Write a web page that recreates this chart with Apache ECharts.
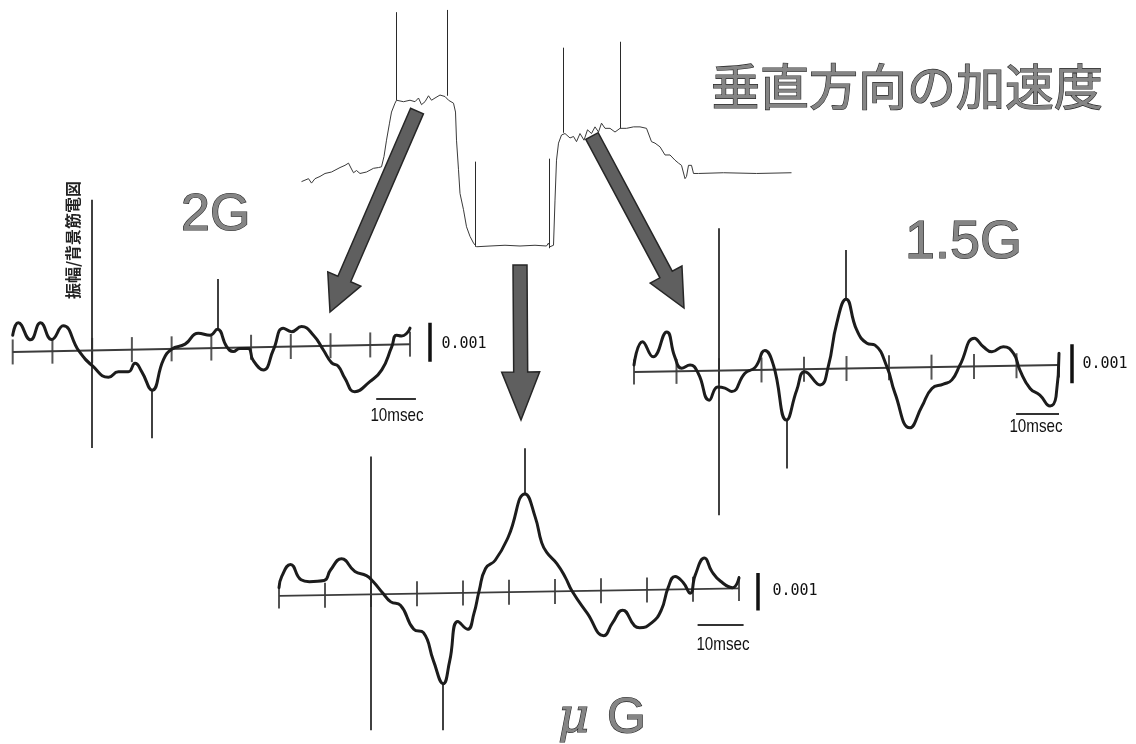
<!DOCTYPE html>
<html>
<head>
<meta charset="utf-8">
<title>垂直方向の加速度</title>
<script src="https://cdn.jsdelivr.net/npm/echarts@6/dist/echarts.min.js"></script>
<style>
  html, body { margin: 0; padding: 0; background: #fff; }
  #chart { width: 1136px; height: 744px; }
</style>
</head>
<body>
<div id="chart"></div>
<script>
// 垂直方向の加速度 (time: arb. units, acceleration: G)
const accelTrace = [
  [0.3, 0.87], [1.7, 0.91], [2.3, 0.85], [3.0, 0.91], [4.0, 0.94], [5.0, 0.98], [6.3, 1.00],
  [8.0, 1.06], [9.0, 1.09], [9.7, 1.12], [10.3, 1.04], [10.7, 0.99], [11.3, 1.02], [12.0, 0.98],
  [13.3, 1.00], [14.7, 1.05], [15.7, 1.06], [16.3, 1.07], [16.8, 1.21], [17.3, 1.43], [17.9, 1.66],
  [18.3, 1.81], [19.0, 1.93], [19.3, 1.97], [20.7, 1.95], [22.0, 1.97], [23.0, 1.95], [23.7, 2.00],
  [24.3, 1.91], [25.0, 1.95], [25.7, 2.03], [26.3, 1.97], [27.0, 2.00], [28.0, 2.04], [29.0, 2.02],
  [29.7, 1.97], [30.7, 1.93], [31.1, 1.81], [31.3, 1.43], [31.7, 1.03], [32.0, 0.71], [32.7, 0.49],
  [33.3, 0.26], [34.0, 0.13], [34.7, 0.04], [35.3, -0.01], [38.0, 0.00], [41.0, 0.01], [44.0, 0.00],
  [47.0, 0.01], [49.3, 0.00], [49.7, 0.04], [50.0, -0.01], [50.7, 0.01], [51.0, 0.62], [51.3, 1.16],
  [51.7, 1.39], [52.3, 1.50], [53.0, 1.52], [54.0, 1.46], [54.7, 1.48], [55.3, 1.41], [56.0, 1.52],
  [56.8, 1.43], [57.5, 1.57], [58.3, 1.52], [59.0, 1.61], [59.7, 1.54], [60.3, 1.66], [61.0, 1.59],
  [62.0, 1.59], [63.0, 1.54], [64.0, 1.59], [65.3, 1.59], [66.7, 1.61], [68.0, 1.61], [69.3, 1.59],
  [70.3, 1.41], [71.0, 1.39], [72.0, 1.34], [73.0, 1.23], [74.0, 1.23], [75.0, 1.16], [75.7, 1.12],
  [76.3, 1.09], [77.0, 0.91], [77.3, 0.94], [77.7, 1.09], [78.3, 1.09], [78.7, 0.98], [79.7, 0.98],
  [84.7, 0.99], [91.3, 0.98], [98.3, 0.99]
];
// thin vertical marks on the acceleration record: [time, top G, bottom G]
const accelSpikes = [
  [19.2, 3.16, 1.97], [29.5, 3.19, 2.03], [35.1, 1.14, -0.01],
  [49.9, 1.18, -0.03], [52.7, 2.68, 1.53], [64.0, 2.76, 1.59]
];

// 振幅/背景筋電図 : time in msec, amplitude in units of 0.001
const ticksMs = [-20, -10, 0, 10, 20, 30, 40, 50, 60, 70, 80];

const wave2G = [
  [-20, 0.38], [-18.6, 0.70], [-15.5, 0.26], [-13.0, 0.70], [-10.2, 0.27], [-7.3, 0.62],
  [-3.3, -0.03], [0.1, -0.41], [4.1, -0.70], [6.6, -0.56], [9.1, -0.56], [10.8, -0.34],
  [12.5, -0.56], [15.1, -1.03], [17.9, -0.26], [20.0, 0.02], [23.4, 0.15], [26.7, 0.43],
  [29.7, 0.38], [31.5, 0.53], [33.9, 0.08], [35.5, -0.04], [37.2, 0.04], [39.3, 0.04],
  [40.5, -0.26], [43.1, -0.51], [45.6, 0.00], [48.1, 0.56], [50.2, 0.47], [52.7, 0.60],
  [55.7, 0.38], [58.2, 0.00], [60.3, -0.33], [61.9, -0.41], [63.6, -0.72], [66.1, -1.07],
  [69.9, -0.81], [72.9, -0.51], [75.4, 0.08], [76.6, 0.38], [77.9, 0.36], [79.2, 0.43], [80, 0.56]
];
const wave15G = [
  [-20, 0.14], [-18.0, 0.74], [-15.5, 0.35], [-12.3, 0.99], [-10.4, 0.35], [-8.8, 0.06],
  [-6.8, 0.14], [-4.9, -0.07], [-2.3, -0.76], [-0.3, -0.42], [1.4, -0.45], [3.0, -0.54],
  [6.1, -0.07], [8.5, 0.08], [10.8, 0.51], [12.8, 0.14], [15.9, -1.27], [18.3, -0.50],
  [20.2, -0.03], [23.8, -0.37], [25.7, 0.10], [27.7, 1.21], [29.9, 1.83], [32.4, 1.04],
  [34.8, 0.70], [36.7, 0.65], [39.5, 0.10], [41.4, -0.58], [44.9, -1.47], [47.7, -0.93],
  [50.1, -0.46], [52.8, -0.35], [54.8, -0.24], [56.7, 0.14], [60.1, 0.83], [62.2, 0.61],
  [64.2, 0.48], [66.9, 0.61], [69.3, 0.44], [70.8, 0.01], [73.2, -0.46], [75.5, -0.63],
  [77.9, -0.91], [79.3, -0.67], [80, 0.44]
];
const waveMuG = [
  [-20, 0.17], [-19.4, 0.47], [-17.5, 0.79], [-15.2, 0.38], [-13.4, 0.33], [-10.2, 0.36],
  [-8.8, 0.64], [-6.4, 0.94], [-3.5, 0.60], [-1.0, 0.49], [0.4, 0.34], [2.6, 0.02],
  [4.3, -0.21], [6.4, -0.30], [9.3, -0.94], [11.4, -1.03], [13.6, -1.79], [15.7, -2.39],
  [17.1, -1.79], [18.9, -0.73], [21.0, -0.94], [22.4, -0.51], [23.5, 0.08], [24.9, 0.68],
  [27.0, 0.90], [29.9, 1.54], [33.5, 2.67], [35.7, 2.05], [37.1, 1.37], [38.2, 1.11],
  [40.4, 0.81], [42.3, 0.43], [43.7, 0.08], [47.0, -0.51], [50.6, -1.11], [52.5, -0.77],
  [54.7, -0.43], [57.3, -0.85], [58.4, -0.90], [61.0, -0.77], [63.1, -0.43], [64.6, 0.17],
  [66.1, 0.47], [67.9, 0.30], [69.4, 0.02], [70.5, 0.51], [72.5, 0.96], [74.1, 0.60],
  [76.0, 0.34], [78.6, 0.17], [80, 0.43]
];

// baseline level at -20 ms and at 80 ms (the scanned baselines drift a little)
const base2G = [-0.05, 0.15];
const base15G = [-0.04, 0.14];
const baseMuG = [-0.05, 0.15];

// vertical event lines: [time, from, to]
const marks2G = [[0, 3.85, -2.51], [31.5, 1.82, 0.53], [15.1, -1.03, -2.26]];
const marks15G = [[0, 3.65, -3.71], [29.9, 3.09, 1.83], [15.9, -1.27, -2.51]];
const marksMuG = [[0, 3.67, -3.63], [33.5, 3.89, 2.67], [15.7, -2.39, -3.63]];

// scale bars: 0.001 amplitude [time, top, bottom], 10 msec [from, to, level]
const ampBar2G = [85.0, 0.70, -0.30], timeBar2G = [71.5, 81.5, -1.26];
const ampBar15G = [83.0, 0.67, -0.33], timeBar15G = [69.9, 80.0, -1.12];
const ampBarMuG = [84.1, 0.56, -0.44], timeBarMuG = [71.0, 81.0, -0.81];

const INK = '#1c1c1c';

const panels = [
  { wave: wave2G, base: base2G, marks: marks2G, amp: ampBar2G, time: timeBar2G,
    grid: { left: 12.7, top: 194, width: 437, height: 273 }, yMin: -3, yMax: 4 },
  { wave: wave15G, base: base15G, marks: marks15G, amp: ampBar15G, time: timeBar15G,
    grid: { left: 634, top: 214.5, width: 467.5, height: 312 }, yMin: -4, yMax: 4 },
  { wave: waveMuG, base: baseMuG, marks: marksMuG, amp: ampBarMuG, time: timeBarMuG,
    grid: { left: 279, top: 444, width: 506, height: 312 }, yMin: -4, yMax: 4 }
];

const grids = [{ left: 300, top: 1.8, width: 500, height: 259 }];
const xAxes = [{ type: 'value', gridIndex: 0, min: 0, max: 100, show: false }];
const yAxes = [{ type: 'value', gridIndex: 0, min: -0.2, max: 3.3, show: false }];
const series = [
  {
    type: 'line', xAxisIndex: 0, yAxisIndex: 0, data: accelTrace, symbol: 'none', silent: true,
    lineStyle: { color: '#3a3a3a', width: 1 }
  },
  {
    type: 'lines', coordinateSystem: 'cartesian2d', xAxisIndex: 0, yAxisIndex: 0, silent: true,
    data: accelSpikes.map(s => ({ coords: [[s[0], s[1]], [s[0], s[2]]] })),
    lineStyle: { color: '#2a2a2a', width: 1, opacity: 1 }
  }
];

panels.forEach((p, k) => {
  const i = k + 1;
  grids.push(Object.assign({ containLabel: false }, p.grid));
  xAxes.push({ type: 'value', gridIndex: i, min: -20, max: 90, show: false });
  yAxes.push({ type: 'value', gridIndex: i, min: p.yMin, max: p.yMax, show: false });
  const baseAt = t => p.base[0] + (p.base[1] - p.base[0]) * (t + 20) / 100;
  series.push(
    {
      type: 'line', xAxisIndex: i, yAxisIndex: i, silent: true, symbol: 'none',
      data: [[-20, p.base[0]], [80, p.base[1]]],
      lineStyle: { color: '#3c3c3c', width: 2 }
    },
    {
      type: 'scatter', xAxisIndex: i, yAxisIndex: i, silent: true,
      data: ticksMs.map(t => [t, baseAt(t)]),
      symbol: 'rect', symbolSize: [2, 25], itemStyle: { color: '#2a2a2a' }
    },
    {
      type: 'lines', coordinateSystem: 'cartesian2d', xAxisIndex: i, yAxisIndex: i, silent: true,
      data: p.marks.map(m => ({ coords: [[m[0], m[1]], [m[0], m[2]]] })),
      lineStyle: { color: '#111', width: 1.6, opacity: 1 }
    },
    {
      type: 'line', xAxisIndex: i, yAxisIndex: i, silent: true, symbol: 'none',
      data: p.wave, smooth: 0.5,
      lineStyle: { color: INK, width: 3, join: 'round', cap: 'round' }
    },
    {
      type: 'lines', coordinateSystem: 'cartesian2d', xAxisIndex: i, yAxisIndex: i, silent: true,
      data: [{ coords: [[p.amp[0], p.amp[1]], [p.amp[0], p.amp[2]]] }],
      lineStyle: { color: '#111', width: 3.5, opacity: 1 }
    },
    {
      type: 'lines', coordinateSystem: 'cartesian2d', xAxisIndex: i, yAxisIndex: i, silent: true,
      data: [{ coords: [[p.time[0], p.time[2]], [p.time[1], p.time[2]]] }],
      lineStyle: { color: '#333', width: 2, opacity: 1 }
    }
  );
});

// big grey arrows (annotation only)
function arrow(tail, tip, s, h, len) {
  const dx = tip[0] - tail[0], dy = tip[1] - tail[1], L = Math.hypot(dx, dy);
  const ux = dx / L, uy = dy / L, nx = -uy, ny = ux;
  const bx = tip[0] - ux * len, by = tip[1] - uy * len;
  return [
    [tail[0] + nx * s, tail[1] + ny * s], [bx + nx * s, by + ny * s], [bx + nx * h, by + ny * h],
    tip, [bx - nx * h, by - ny * h], [bx - nx * s, by - ny * s], [tail[0] - nx * s, tail[1] - ny * s]
  ];
}
const arrowStyle = { fill: '#5f5f5f', stroke: '#262626', lineWidth: 1.5 };
const outlineText = (text, x, y, font) => ({
  type: 'text', x: x, y: y, silent: true,
  style: { text: text, font: font, fill: '#858585', stroke: '#2a2a2a', lineWidth: 1.2, align: 'left', verticalAlign: 'middle' }
});
const smallText = (text, x, y, font, sx) => ({
  type: 'text', x: x, y: y, silent: true, scaleX: sx || 1,
  style: { text: text, font: font, fill: '#111', align: 'center', verticalAlign: 'middle' }
});
const monoFont = '15px "DejaVu Sans Mono", monospace';
const narrowFont = '19px "Liberation Sans", Arial, sans-serif';

const graphic = [
  { type: 'polygon', silent: true, shape: { points: arrow([417, 111], [330, 312], 7, 18, 36) }, style: arrowStyle },
  { type: 'polygon', silent: true, shape: { points: arrow([520, 265], [521, 420], 7, 19, 48) }, style: arrowStyle },
  { type: 'polygon', silent: true, shape: { points: arrow([592, 136], [684, 308], 7, 18, 38) }, style: arrowStyle },
  outlineText('垂直方向の加速度', 711, 86, '49px "Noto Sans CJK JP"'),
  outlineText('2G', 181, 216, '52px "Liberation Sans", Arial, sans-serif'),
  outlineText('1.5G', 905, 243, '54px "Liberation Sans", Arial, sans-serif'),
  outlineText('μ', 558, 720, 'italic 48px "DejaVu Serif", serif'),
  outlineText('G', 607, 719, '50px "Liberation Sans", Arial, sans-serif'),
  {
    type: 'text', x: 73, y: 240, rotation: Math.PI / 2, silent: true,
    style: { text: '振幅/背景筋電図', font: 'bold 16px "Noto Sans CJK JP"', fill: '#222', align: 'center', verticalAlign: 'middle' }
  },
  smallText('0.001', 464, 344, monoFont),
  smallText('10msec', 397, 416, narrowFont, 0.8),
  smallText('0.001', 1105, 364, monoFont),
  smallText('10msec', 1036, 427, narrowFont, 0.8),
  smallText('0.001', 795, 591, monoFont),
  smallText('10msec', 723, 645, narrowFont, 0.8)
];

const chart = echarts.init(document.getElementById('chart'), null, { renderer: 'canvas' });
chart.setOption({
  backgroundColor: '#fff',
  animation: false,
  grid: grids,
  xAxis: xAxes,
  yAxis: yAxes,
  series: series,
  graphic: graphic
});
</script>
</body>
</html>
